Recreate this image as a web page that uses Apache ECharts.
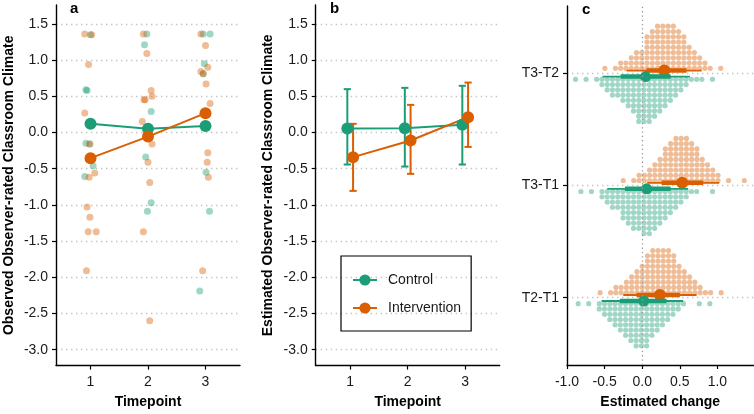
<!DOCTYPE html>
<html>
<head>
<meta charset="utf-8">
<script src="https://cdn.jsdelivr.net/npm/echarts@6/dist/echarts.min.js"></script>
<style>
  html, body { margin: 0; padding: 0; background: #fff; }
  #chart { width: 754px; height: 414px; }
</style>
</head>
<body>
<div id="chart"></div>
<script>
// classroom climate — three panels: observed, estimated, estimated change
const GREEN = '#1B9E77';
const ORANGE = '#D95F02';
const FONT = '"Liberation Sans", Arial, Helvetica, sans-serif';

// panel a: observed scores (timepoint with jitter, value)
const timepoints = [1, 2, 3];
const yTicks = [-3, -2.5, -2, -1.5, -1, -0.5, 0, 0.5, 1, 1.5];
const obsControl = [
  [1.00, 1.35], [0.92, 0.59], [0.94, 0.58], [0.92, -0.15], [0.99, -0.16], [1.045, -0.46], [0.90, -0.61],
  [1.98, 1.36], [1.94, 1.21], [2.055, 0.29], [1.96, -0.34], [2.055, -0.97], [1.99, -1.09],
  [2.96, 1.36], [3.08, 1.36], [2.98, 0.95], [2.96, 0.81], [3.01, -0.55], [3.07, -1.09], [2.90, -2.19]
];
const obsIntervention = [
  [0.90, 1.36], [1.02, 1.35], [0.966, 0.94], [0.90, 0.27], [0.98, -0.16], [1.074, -0.56], [0.976, -0.62],
  [0.94, -1.03], [0.99, -1.17], [0.96, -1.37], [1.10, -1.37], [0.93, -1.91],
  [1.92, 1.36], [1.98, 1.09], [2.055, 0.58], [2.07, 0.50], [1.93, 0.45], [1.95, 0.45], [1.90, 0.15],
  [2.07, -0.16], [2.00, -0.41], [2.03, -0.69], [1.92, -1.37], [2.03, -2.60],
  [2.92, 1.36], [3.00, 1.20], [3.04, 0.90], [2.92, 0.84], [2.96, 0.81], [3.01, 0.67], [3.08, 0.40],
  [3.04, -0.28], [3.03, -0.41], [3.05, -0.62], [2.95, -1.91]
];
const meanControl = [0.12, 0.05, 0.09];
const meanIntervention = [-0.355, -0.057, 0.266];

// panel b: model estimates with 95% CI
const estControl = [0.054, 0.058, 0.105];
const estControlLow = [-0.443, -0.471, -0.443];
const estControlHigh = [0.598, 0.616, 0.644];
const estIntervention = [-0.341, -0.112, 0.211];
const estInterventionLow = [-0.807, -0.572, -0.2];
const estInterventionHigh = [0.119, 0.381, 0.689];
const dodge = 0.05;

// panel c: posterior change, quantile dots (counts per bin) + median / 66% / 95%
const contrasts = ['T2-T1', 'T3-T1', 'T3-T2'];
const changeTicks = [-1, -0.5, 0, 0.5, 1];
const binWidth = 0.07;
const dotsT21Int = [1, 0, 1, 2, 2, 3, 4, 5, 6, 8, 9, 9, 9, 9, 8, 6, 5, 4, 3, 2, 1, 1, 0, 1];
const dotsT21Ctrl = [1, 0, 1, 0, 2, 3, 4, 5, 6, 7, 8, 9, 9, 9, 7, 6, 5, 4, 3, 2, 1, 0, 0, 1, 0, 1];
const dotsT31Int = [1, 0, 1, 2, 2, 3, 4, 5, 7, 8, 9, 9, 9, 8, 7, 5, 4, 3, 2, 0, 1, 0, 0, 1];
const dotsT31Ctrl = [1, 0, 1, 0, 2, 3, 4, 4, 6, 7, 8, 8, 9, 9, 8, 7, 6, 5, 4, 3, 2, 1, 1, 0, 0, 1];
const dotsT32Int = [1, 0, 1, 2, 2, 3, 4, 4, 7, 8, 9, 9, 9, 9, 8, 7, 5, 4, 3, 2, 1, 0, 1];
const dotsT32Ctrl = [1, 0, 1, 0, 1, 2, 3, 4, 4, 5, 6, 7, 9, 9, 9, 8, 7, 6, 5, 4, 3, 2, 1, 1, 1, 0, 1];
const dotsStartInt = [-0.56, -0.252, -0.496];
const dotsStartCtrl = [-0.851, -0.815, -0.886];

const changeCtrlMed = [0.02, 0.06, 0.045];
const changeCtrlLo95 = [-0.54, -0.465, -0.527];
const changeCtrlHi95 = [0.545, 0.612, 0.634];
const changeCtrlLo66 = [-0.297, -0.23, -0.287];
const changeCtrlHi66 = [0.324, 0.378, 0.378];
const changeIntMed = [0.235, 0.532, 0.293];
const changeIntLo95 = [-0.252, 0.067, -0.208];
const changeIntHi95 = [0.723, 1.024, 0.79];
const changeIntLo66 = [-0.075, 0.258, 0.058];
const changeIntHi66 = [0.501, 0.811, 0.59];

const chart = echarts.init(document.getElementById('chart'), null, { renderer: 'canvas' });

const dottedGrid = { show: true, lineStyle: { color: '#c4c4c4', width: 1.4, type: [1.4, 3.6] } };

function axisBase(ticks, fmt) {
  return {
    axisLine: { show: true, onZero: false, lineStyle: { color: '#000', width: 1.4 } },
    axisTick: { show: true, length: 4, customValues: ticks, lineStyle: { color: '#000', width: 1.2 } },
    axisLabel: { show: true, customValues: ticks, formatter: fmt, color: '#1a1a1a', fontSize: 14, fontFamily: FONT, margin: 8 },
    nameTextStyle: { color: '#000', fontSize: 14, fontWeight: 'bold', fontFamily: FONT },
    splitLine: { show: false }
  };
}

function climateY(idx, name, gap) {
  return Object.assign(axisBase(yTicks, v => v.toFixed(1)), {
    type: 'value', gridIndex: idx, min: -3.22, max: 1.76,
    name, nameLocation: 'middle', nameGap: gap, nameRotate: 90,
    splitLine: dottedGrid
  });
}

function xLabelled(ax) {
  ax.axisLabel.margin = 10;
  return ax;
}

function timeX(idx) {
  return xLabelled(Object.assign(axisBase(timepoints, v => String(v)), {
    type: 'value', gridIndex: idx, min: 0.4, max: 3.6,
    name: 'Timepoint', nameLocation: 'middle', nameGap: 30
  }));
}

function renderErrorBar(color) {
  return function (params, api) {
    const x = api.value(0);
    const lo = api.coord([x, api.value(2)]);
    const hi = api.coord([x, api.value(3)]);
    const half = 3.6;
    const style = { stroke: color, lineWidth: 2 };
    return {
      type: 'group',
      children: [
        { type: 'line', shape: { x1: lo[0], y1: lo[1], x2: hi[0], y2: hi[1] }, style },
        { type: 'line', shape: { x1: lo[0] - half, y1: lo[1], x2: lo[0] + half, y2: lo[1] }, style },
        { type: 'line', shape: { x1: hi[0] - half, y1: hi[1], x2: hi[0] + half, y2: hi[1] }, style }
      ]
    };
  };
}

function renderDots(color, dir, offset) {
  return function (params, api) {
    const base = api.coord([api.value(0), api.value(1)]);
    const n = api.value(2);
    const step = api.size([binWidth, 0])[0];
    const children = [];
    for (let i = 0; i < n; i++) {
      children.push({
        type: 'circle',
        shape: { cx: base[0], cy: base[1] + dir * (offset + i * step), r: step * 0.49 },
        style: { fill: color, opacity: 0.42 }
      });
    }
    return { type: 'group', children };
  };
}

function renderInterval(color, shift, r) {
  return function (params, api) {
    const cat = api.value(1);
    const p = v => api.coord([v, cat]);
    const m = p(api.value(0));
    const a = p(api.value(2)), b = p(api.value(3)), c = p(api.value(4)), d = p(api.value(5));
    const y = m[1] + shift;
    return {
      type: 'group',
      children: [
        { type: 'line', shape: { x1: a[0], y1: y, x2: b[0], y2: y }, style: { stroke: color, lineWidth: 1.8 } },
        { type: 'line', shape: { x1: c[0], y1: y, x2: d[0], y2: y }, style: { stroke: color, lineWidth: 4.5 } },
        { type: 'circle', shape: { cx: m[0], cy: y, r }, style: { fill: color } }
      ]
    };
  };
}

function dotColumns(counts, start, cat) {
  return counts
    .map((n, k) => [+(start + k * binWidth).toFixed(3), cat, n])
    .filter(d => d[2] > 0);
}

const intDots = [];
const ctrlDots = [];
[dotsT21Int, dotsT31Int, dotsT32Int].forEach((c, i) => intDots.push(...dotColumns(c, dotsStartInt[i], i + 1)));
[dotsT21Ctrl, dotsT31Ctrl, dotsT32Ctrl].forEach((c, i) => ctrlDots.push(...dotColumns(c, dotsStartCtrl[i], i + 1)));

const intervalCtrl = contrasts.map((_, i) => [changeCtrlMed[i], i + 1, changeCtrlLo95[i], changeCtrlHi95[i], changeCtrlLo66[i], changeCtrlHi66[i]]);
const intervalInt = contrasts.map((_, i) => [changeIntMed[i], i + 1, changeIntLo95[i], changeIntHi95[i], changeIntLo66[i], changeIntHi66[i]]);

const option = {
  backgroundColor: '#fff',
  animation: false,
  textStyle: { fontFamily: FONT },
  grid: [
    { left: 56, top: 5, width: 184, height: 360.6, outerBoundsMode: 'none' },
    { left: 315.7, top: 5, width: 184, height: 360.6, outerBoundsMode: 'none' },
    { left: 567, top: 6, width: 186.5, height: 359, outerBoundsMode: 'none' }
  ],
  xAxis: [
    timeX(0),
    timeX(1),
    xLabelled(Object.assign(axisBase(changeTicks, v => v.toFixed(1)), {
      type: 'value', gridIndex: 2, min: -1, max: 1.48,
      name: 'Estimated change', nameLocation: 'middle', nameGap: 30
    }))
  ],
  yAxis: [
    climateY(0, 'Observed Observer-rated Classroom Climate', 40),
    climateY(1, 'Estimated Observer-rated Classroom Climate', 41),
    Object.assign(axisBase([1, 2, 3], v => contrasts[v - 1]), {
      type: 'value', gridIndex: 2, min: 0.4, max: 3.6,
      splitLine: dottedGrid
    })
  ],
  legend: {
    data: ['Control', 'Intervention'],
    orient: 'vertical',
    left: 341, top: 256,
    padding: [17, 10, 16, 11],
    itemGap: 14,
    itemWidth: 24, itemHeight: 14,
    borderColor: '#000', borderWidth: 1.2,
    textStyle: { fontSize: 14, color: '#1a1a1a', fontFamily: FONT, padding: [0, 0, 0, 6] },
    selectedMode: false
  },
  graphic: [
    { type: 'text', left: 70, top: 1, style: { text: 'a', font: 'bold 15px ' + FONT, fill: '#000' } },
    { type: 'text', left: 330, top: 1, style: { text: 'b', font: 'bold 15px ' + FONT, fill: '#000' } },
    { type: 'text', left: 582, top: 2, style: { text: 'c', font: 'bold 15px ' + FONT, fill: '#000' } }
  ],
  series: [
    // panel b (declared first so the legend takes its line + dot icon)
    {
      type: 'custom', name: 'ctrlErr', xAxisIndex: 1, yAxisIndex: 1,
      renderItem: renderErrorBar(GREEN),
      encode: { x: 0, y: [1, 2, 3] },
      data: timepoints.map((t, i) => [t - dodge, estControl[i], estControlLow[i], estControlHigh[i]])
    },
    {
      type: 'line', name: 'Control', xAxisIndex: 1, yAxisIndex: 1,
      symbol: 'circle', symbolSize: 12, color: GREEN,
      lineStyle: { color: GREEN, width: 2 }, itemStyle: { color: GREEN },
      data: timepoints.map((t, i) => [t - dodge, estControl[i]])
    },
    {
      type: 'custom', name: 'intErr', xAxisIndex: 1, yAxisIndex: 1,
      renderItem: renderErrorBar(ORANGE),
      encode: { x: 0, y: [1, 2, 3] },
      data: timepoints.map((t, i) => [t + dodge, estIntervention[i], estInterventionLow[i], estInterventionHigh[i]])
    },
    {
      type: 'line', name: 'Intervention', xAxisIndex: 1, yAxisIndex: 1,
      symbol: 'circle', symbolSize: 12, color: ORANGE,
      lineStyle: { color: ORANGE, width: 2 }, itemStyle: { color: ORANGE },
      data: timepoints.map((t, i) => [t + dodge, estIntervention[i]])
    },
    // panel a
    {
      type: 'scatter', name: 'obsControl', xAxisIndex: 0, yAxisIndex: 0,
      symbolSize: 7, itemStyle: { color: GREEN, opacity: 0.42 },
      data: obsControl
    },
    {
      type: 'scatter', name: 'obsIntervention', xAxisIndex: 0, yAxisIndex: 0,
      symbolSize: 7, itemStyle: { color: ORANGE, opacity: 0.42 },
      data: obsIntervention
    },
    {
      type: 'line', name: 'meanControl', xAxisIndex: 0, yAxisIndex: 0,
      symbol: 'circle', symbolSize: 12,
      lineStyle: { color: GREEN, width: 2 }, itemStyle: { color: GREEN },
      data: timepoints.map((t, i) => [t, meanControl[i]])
    },
    {
      type: 'line', name: 'meanIntervention', xAxisIndex: 0, yAxisIndex: 0,
      symbol: 'circle', symbolSize: 12,
      lineStyle: { color: ORANGE, width: 2 }, itemStyle: { color: ORANGE },
      data: timepoints.map((t, i) => [t, meanIntervention[i]])
    },
    // panel c
    {
      type: 'custom', name: 'dotsCtrl', xAxisIndex: 2, yAxisIndex: 2,
      renderItem: renderDots(GREEN, 1, 6),
      encode: { x: 0, y: 1 },
      data: ctrlDots,
      markLine: {
        silent: true, symbol: 'none', label: { show: false },
        lineStyle: { color: '#9a9a9a', width: 1.3, type: [1.3, 3] },
        data: [{ xAxis: 0 }]
      }
    },
    {
      type: 'custom', name: 'dotsInt', xAxisIndex: 2, yAxisIndex: 2,
      renderItem: renderDots(ORANGE, -1, 5),
      encode: { x: 0, y: 1 },
      data: intDots
    },
    {
      type: 'custom', name: 'intervalInt', xAxisIndex: 2, yAxisIndex: 2,
      renderItem: renderInterval(ORANGE, -2.7, 6),
      encode: { x: [0, 2, 3], y: 1 },
      data: intervalInt
    },
    {
      type: 'custom', name: 'intervalCtrl', xAxisIndex: 2, yAxisIndex: 2,
      renderItem: renderInterval(GREEN, 3.3, 5.5),
      encode: { x: [0, 2, 3], y: 1 },
      data: intervalCtrl
    }
  ]
};

chart.setOption(option);
</script>
</body>
</html>
